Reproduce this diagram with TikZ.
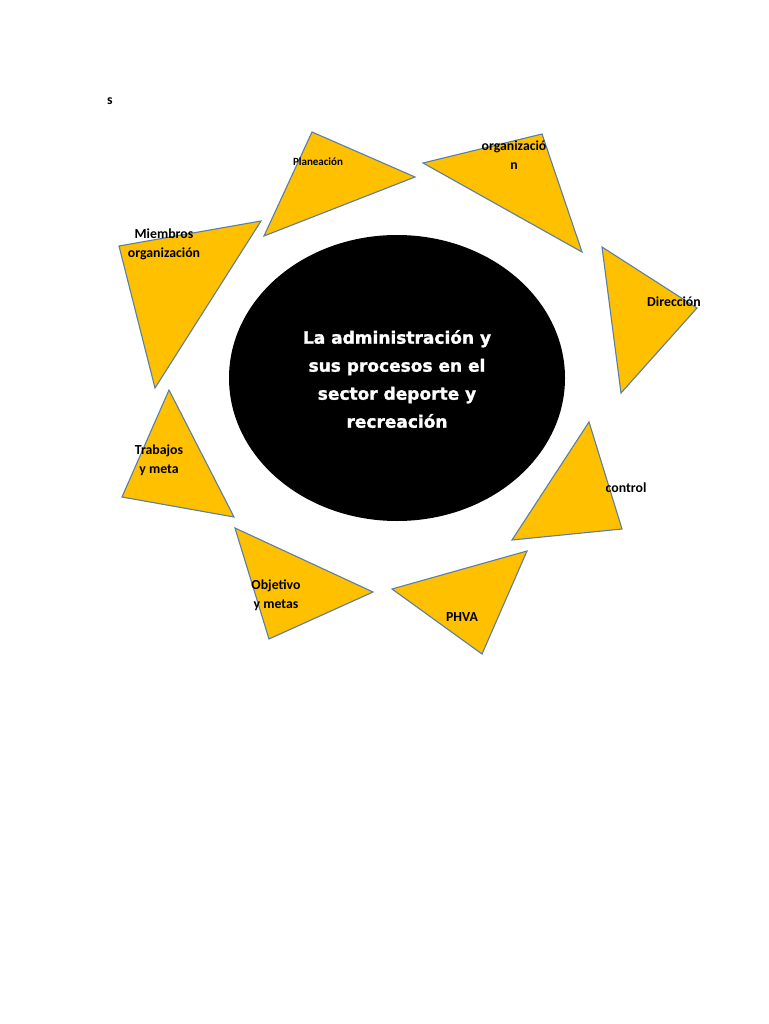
\documentclass[tikz,border=0pt]{standalone}
\usepackage{fontspec}
\setmainfont{Carlito}
\newfontfamily\heavy[BoldFeatures={FakeBold=1.5}]{DejaVu Sans}
\definecolor{gold}{HTML}{FFC000}
\definecolor{edge}{HTML}{5A7FA3}
\tikzset{
  tri/.style={fill=gold, draw=edge, line width=1.1pt, line join=miter},
  lbl/.style={font=\bfseries\fontsize{13.8}{19}\selectfont, text=black, align=center, inner sep=0pt},
  ctr/.style={font=\heavy\bfseries\fontsize{17}{28}\selectfont, text=white, align=center, inner sep=0pt}
}
\begin{document}
\begin{tikzpicture}[x=1pt,y=-1pt]
\useasboundingbox (0,0) rectangle (768,1024);
\fill[white] (0,0) rectangle (768,1024);
% triangles
\draw[tri] (312,132) -- (415,177) -- (264,236) -- cycle;
\draw[tri] (423,163) -- (542,134) -- (582,252) -- cycle;
\draw[tri] (602,247) -- (697,308) -- (621,393) -- cycle;
\draw[tri] (589,422) -- (622,529) -- (512,540) -- cycle;
\draw[tri] (392,589) -- (527,551) -- (482,654) -- cycle;
\draw[tri] (235,528) -- (373,592) -- (269,639) -- cycle;
\draw[tri] (169,390) -- (234,517) -- (122,497) -- cycle;
\draw[tri] (119,246) -- (261,221) -- (155,388) -- cycle;
% center ellipse
\fill[black] (397,378) ellipse [x radius=168, y radius=143];
\node[ctr] (center) at (397,379) {La administración y\\sus procesos en el\\sector deporte y\\recreación};
% labels
\node[lbl] (s) at (110,101) {s};
\node[lbl, font=\bfseries\fontsize{11}{10}\selectfont] (plan) at (318,162) {Planeación};
\node[lbl] (org) at (514,155) {organizació\\n};
\node[lbl] (miem) at (164,244) {Miembros\\organización};
\node[lbl] (dir) at (674,302) {Dirección};
\node[lbl] (trab) at (159,460) {Trabajos\\y meta};
\node[lbl] (ctrl) at (626,488) {control};
\node[lbl] (obj) at (276,595) {Objetivo\\y metas};
\node[lbl] (phva) at (462,617) {PHVA};
\end{tikzpicture}
\end{document}
